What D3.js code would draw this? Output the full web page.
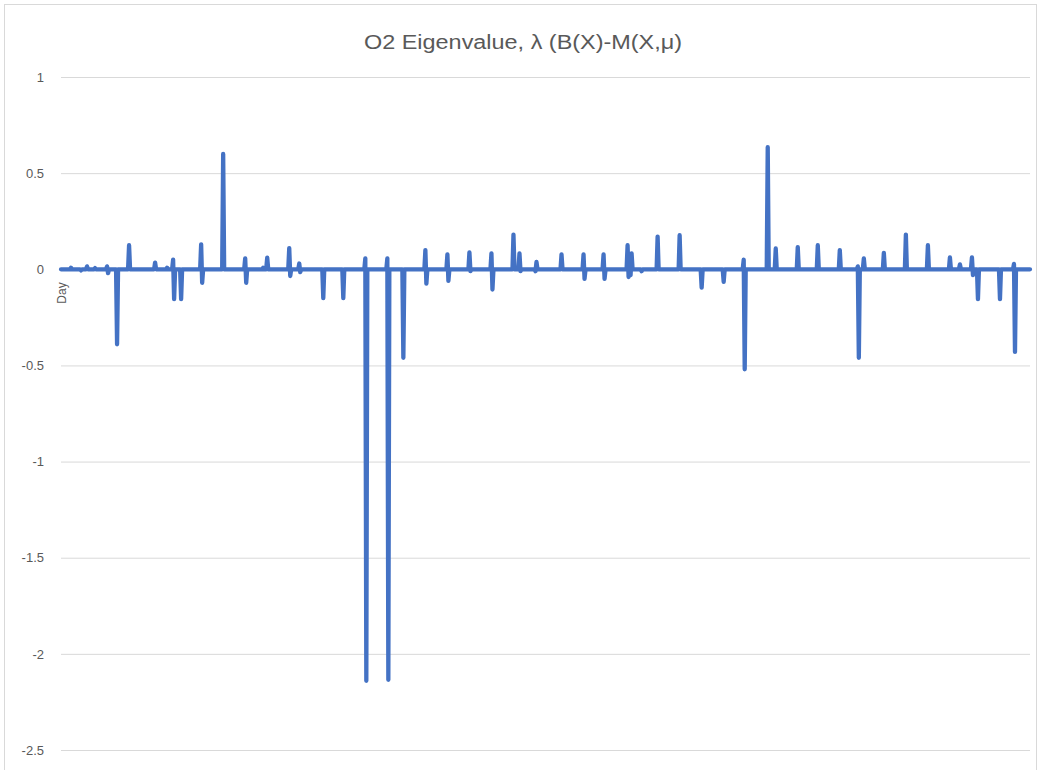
<!DOCTYPE html>
<html>
<head>
<meta charset="utf-8">
<script src="https://cdn.jsdelivr.net/npm/d3@7"></script>
<style>
  html, body { margin: 0; padding: 0; background: #fff; }
  svg { display: block; }
  text { font-family: "Liberation Sans", Arial, sans-serif; fill: #595959; }
</style>
</head>
<body>
<svg id="chart" width="1040" height="770"></svg>
<script>
// ---- data ----
const chartTitle = "O2 Eigenvalue, \u03bb (B(X)-M(X,\u03bc)";
const xAxisTitle = "Day";
const tickValues = [1, 0.5, 0, -0.5, -1, -1.5, -2, -2.5];
const tickLabels = ["1", "0.5", "0", "-0.5", "-1", "-1.5", "-2", "-2.5"];
const firstDay = 0;
const lastDay = 968;
// each spike: the day it starts on and its run of consecutive daily values;
// every other day of the series sits on 0
const spikeStart = [
  10, 20, 26, 34, 46, 56, 68, 94, 106, 112, 120, 140, 162, 184, 202, 206,
  228, 238, 262, 282, 304, 326, 342, 364, 386, 408, 430, 452, 458, 474,
  500, 522, 542, 566, 569, 580, 596, 618, 640, 662, 682, 706, 714, 736,
  756, 778, 796, 802, 822, 844, 866, 888, 898, 910, 916, 938, 952
];
const spikeValues = [
  [0.008], [-0.006], [0.015], [0.006], [0.015, -0.02], [-0.39], [0.125], [0.035],
  [0.008], [0.05, -0.155], [-0.155], [0.13, -0.07], [0.6], [0.057, -0.07], [0.008], [0.06],
  [0.11, -0.035], [0.03, -0.015], [-0.15], [-0.15], [0.057, -2.14], [0.057, -2.135], [-0.46],
  [0.1, -0.075], [0.078, -0.06], [0.088, -0.01], [0.083, -0.105], [0.18], [0.083, -0.01], [-0.01, 0.038],
  [0.078], [0.078, -0.05], [0.078, -0.05], [0.125, -0.04], [-0.03, 0.083], [-0.01], [0.17], [0.177],
  [-0.095], [-0.065], [0.05, -0.52], [0.635], [0.108], [0.115],
  [0.125], [0.1], [0.015, -0.46], [0.057], [0.085], [0.18], [0.125], [0.062], [0.025], [0.062, -0.03],
  [-0.155], [-0.155], [0.028, -0.43]
];

// ---- drawing ----
const svg = d3.select("#chart");
const W = 1040, H = 770;
const plot = { left: 61, right: 1030, top: 77, bottom: 750 };

svg.append("rect").attr("x", 0).attr("y", 0).attr("width", W).attr("height", H).attr("fill", "#fff");
svg.append("rect")
  .attr("x", 4.5).attr("y", 4.5).attr("width", 1032).attr("height", 820)
  .attr("fill", "none").attr("stroke", "#d9d9d9").attr("stroke-width", 1);

const x = d3.scaleLinear().domain([firstDay, lastDay]).range([plot.left, plot.right]);
const y = d3.scaleLinear().domain([-2.5, 1]).range([plot.bottom, plot.top]);

const yAxis = d3.axisLeft(y)
  .tickValues(tickValues)
  .tickFormat((d, i) => tickLabels[i])
  .tickSize(-(plot.right - plot.left))
  .tickPadding(17);

const gy = svg.append("g").attr("transform", `translate(${plot.left},0)`).call(yAxis);
gy.select(".domain").remove();
gy.selectAll(".tick line").attr("stroke", "#d9d9d9").attr("stroke-width", 1);
gy.selectAll(".tick text")
  .attr("fill", "#595959")
  .style("font-family", '"Liberation Sans", Arial, sans-serif')
  .style("font-size", "13px");

// line points: baseline at both ends and around each spike run
const pts = [[firstDay, 0]];
spikeStart.forEach((s, i) => {
  const vals = spikeValues[i];
  pts.push([s - 1, 0]);
  vals.forEach((v, j) => pts.push([s + j, v]));
  pts.push([s + vals.length, 0]);
});
pts.push([lastDay, 0]);

const line = d3.line().x(d => x(d[0])).y(d => y(d[1]));
svg.append("path")
  .datum(pts)
  .attr("d", line)
  .attr("fill", "none")
  .attr("stroke", "#4472C4")
  .attr("stroke-width", 4.3)
  .attr("stroke-linejoin", "round")
  .attr("stroke-linecap", "round");

svg.append("text")
  .attr("x", 523).attr("y", 49)
  .attr("text-anchor", "middle")
  .attr("textLength", 318)
  .attr("lengthAdjust", "spacingAndGlyphs")
  .style("font-size", "20px")
  .text(chartTitle);

svg.append("text")
  .attr("transform", "translate(66,293) rotate(-90)")
  .attr("text-anchor", "middle")
  .style("font-size", "12px")
  .text(xAxisTitle);
</script>
</body>
</html>
